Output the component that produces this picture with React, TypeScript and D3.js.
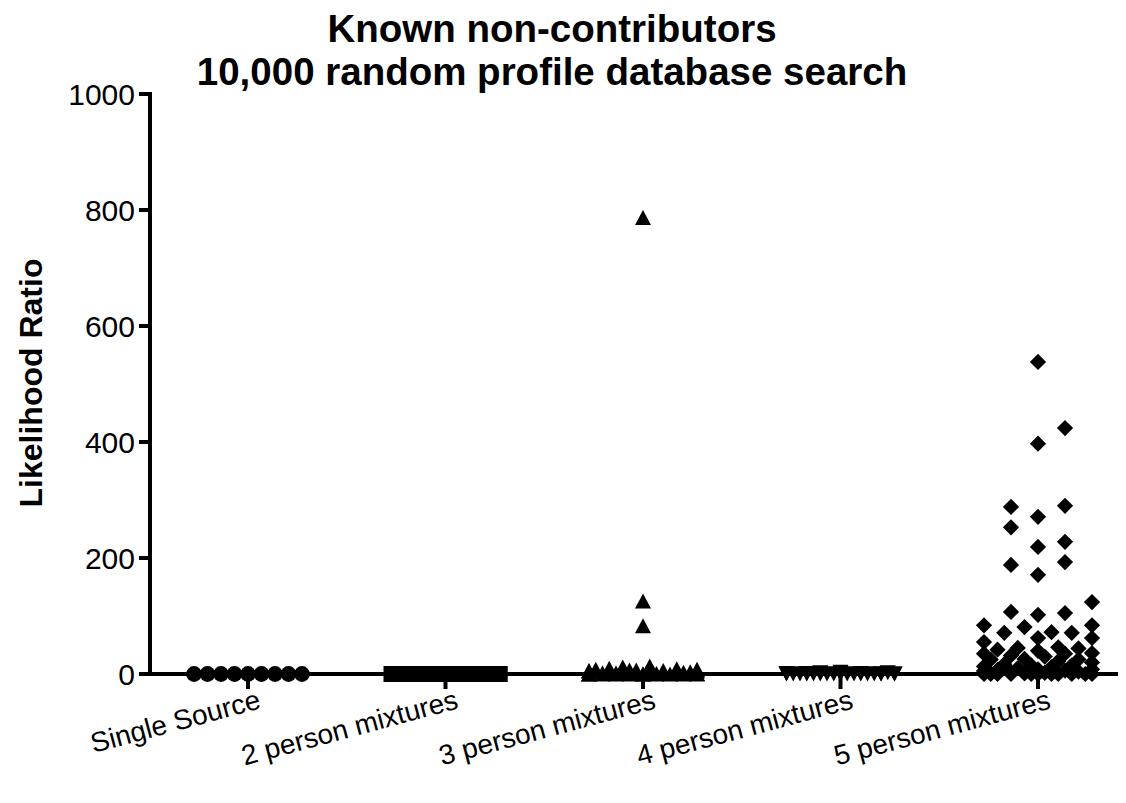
import React from "react";
import * as d3 from "d3";

const categories = [
  "Single Source",
  "2 person mixtures",
  "3 person mixtures",
  "4 person mixtures",
  "5 person mixtures",
];

const singleSource = [0, 0, 0, 0, 0, 0, 0, 0, 0];
const twoPerson = [0, 0, 0, 0, 0, 0, 0, 0, 0, 0, 0, 0, 0, 0, 0, 0, 0];
const threePerson = [
  787, 126, 83, 0, 0, 0, 0, 0, 0, 0, 0, 0, 14, 12, 9, 8, 8, 7, 6, 5, 5, 4, 3, 3, 2, 2, 1, 1,
  4, 6, 2, 3, 1, 0, 0, 10, 7, 5,
];
const fourPerson = [
  0, 0, 0, 0, 0, 0, 0, 0, 0, 0, 0, 0, 0, 0, 0, 0, 0, 1, 2, 3, 1, 2, 0, 1,
];
const fivePerson = [
  538, 397, 424, 271, 290, 288, 219, 228, 253, 171, 193, 188,
  102, 105, 107, 124, 84, 84, 81, 72, 71, 71, 62, 62,
  55, 45, 46, 44, 42, 40, 36, 35, 35, 32, 30, 26, 25, 25, 22, 20, 17, 15, 15, 13, 12,
  10, 8, 8, 7, 6, 5, 4, 3, 2, 1, 0, 0, 0, 0, 0, 0, 0, 0, 0, 0, 0,
];

const seriesValues = [singleSource, twoPerson, threePerson, fourPerson, fivePerson];
const markerKinds = ["circle", "square", "triangle", "triangleDown", "diamond"];

const yTicks = [0, 200, 400, 600, 800, 1000];
const titleLines = ["Known non-contributors", "10,000 random profile database search"];
const yLabel = "Likelihood Ratio";

const FONT = "'Liberation Sans', Arial, Helvetica, sans-serif";

const W = 1126;
const H = 803;
const axisX = 150;
const axisY = 674;
const axisRight = 1118;

// deterministic column-based scatter spreading
const COL_STEP = 13.5;
const COL_MAX = 4;
const H_SAME = 17;
const H_ADJ = 17;
const MARK_W = 16;

function spread(values: number[], yPix: (v: number) => number) {
  const order: number[] = [0];
  for (let k = 1; k <= COL_MAX; k++) order.push(k, -k);
  const fine: number[] = [0];
  for (let k = 1; k <= COL_MAX * 2; k++) fine.push(k / 2, -k / 2);
  const placed: { c: number; py: number }[] = [];
  for (const v of values) {
    const py = yPix(v);
    let chosen: number | null = null;
    for (const c of order) {
      const hit = placed.some(
        (p) =>
          (p.c === c && Math.abs(p.py - py) < H_SAME) ||
          (Math.abs(p.c - c) === 1 && Math.abs(p.py - py) < H_ADJ) ||
          (Math.abs(p.c - c) < 1 && Math.abs(p.py - py) < H_SAME)
      );
      if (!hit) {
        chosen = c;
        break;
      }
    }
    if (chosen === null) {
      let best = Infinity;
      for (const c of fine) {
        let cost = 0;
        for (const p of placed) {
          const dx = Math.abs(p.c - c) * COL_STEP;
          const dy = Math.abs(p.py - py);
          cost += (Math.max(0, MARK_W - dx) / MARK_W) * Math.max(0, H_SAME - dy);
        }
        if (cost < best - 1e-9) {
          best = cost;
          chosen = c;
        }
      }
    }
    placed.push({ c: chosen as number, py });
  }
  return placed.map((p) => p.c * COL_STEP);
}

function markerPath(kind: string) {
  if (kind === "circle") return d3.symbol(d3.symbolCircle, 196)() as string;
  if (kind === "square") return d3.symbol(d3.symbolSquare, 256)() as string;
  if (kind === "triangle" || kind === "triangleDown") {
    const p = d3.path();
    p.moveTo(0, -7.5);
    p.lineTo(8, 7.5);
    p.lineTo(-8, 7.5);
    p.closePath();
    return p.toString();
  }
  return d3.symbol(d3.symbolSquare, 132)() as string;
}

function markerTransform(kind: string, x: number, y: number) {
  if (kind === "triangleDown") return `translate(${x},${y}) rotate(180)`;
  if (kind === "diamond") return `translate(${x},${y}) rotate(45)`;
  return `translate(${x},${y})`;
}

export default function App() {
  const x = d3.scalePoint<string>().domain(categories).range([248, 1038]);
  const y = d3.scaleLinear().domain([0, 1000]).range([axisY, 94]);

  return (
    <svg
      width={W}
      height={H}
      viewBox={`0 0 ${W} ${H}`}
      style={{ position: "absolute", left: 0, top: 0, display: "block", background: "#fff" }}
    >
      <rect x={0} y={0} width={W} height={H} fill="#fff" />
      {titleLines.map((t, i) => (
        <text
          key={t}
          x={552}
          y={42 + i * 43}
          textAnchor="middle"
          fontFamily={FONT}
          fontWeight="bold"
          fontSize={38.5}
          fill="#000"
        >
          {t}
        </text>
      ))}

      <text
        transform={`translate(42,383) rotate(-90)`}
        textAnchor="middle"
        fontFamily={FONT}
        fontWeight="bold"
        fontSize={32}
        fill="#000"
      >
        {yLabel}
      </text>

      {categories.map((cat, ci) => {
        const vals = seriesValues[ci];
        const kind = markerKinds[ci];
        const offs = spread(vals, (v) => y(v));
        const d = markerPath(kind);
        return (
          <g key={cat}>
            {vals.map((v, i) => (
              <path
                key={i}
                d={d}
                transform={markerTransform(kind, (x(cat) as number) + offs[i], y(v))}
                fill="#000"
              />
            ))}
          </g>
        );
      })}

      <line x1={axisX} x2={axisX} y1={y(1000) - 2} y2={axisY + 2} stroke="#000" strokeWidth={4} />
      {yTicks.map((t) => (
        <g key={t}>
          <line x1={axisX - 11} x2={axisX} y1={y(t)} y2={y(t)} stroke="#000" strokeWidth={4} />
          <text
            x={axisX - 15}
            y={y(t)}
            dy="0.36em"
            textAnchor="end"
            fontFamily={FONT}
            fontSize={30}
            fill="#000"
          >
            {t}
          </text>
        </g>
      ))}

      <line x1={axisX - 2} x2={axisRight} y1={axisY} y2={axisY} stroke="#000" strokeWidth={4} />
      {categories.map((cat) => {
        const cx = x(cat) as number;
        return (
          <g key={cat}>
            <line x1={cx} x2={cx} y1={axisY} y2={axisY + 15} stroke="#000" strokeWidth={4} />
            <text
              transform={`translate(${cx + 14},${axisY + 34}) rotate(-15)`}
              textAnchor="end"
              fontFamily={FONT}
              fontSize={28}
              fill="#000"
            >
              {cat}
            </text>
          </g>
        );
      })}
    </svg>
  );
}
